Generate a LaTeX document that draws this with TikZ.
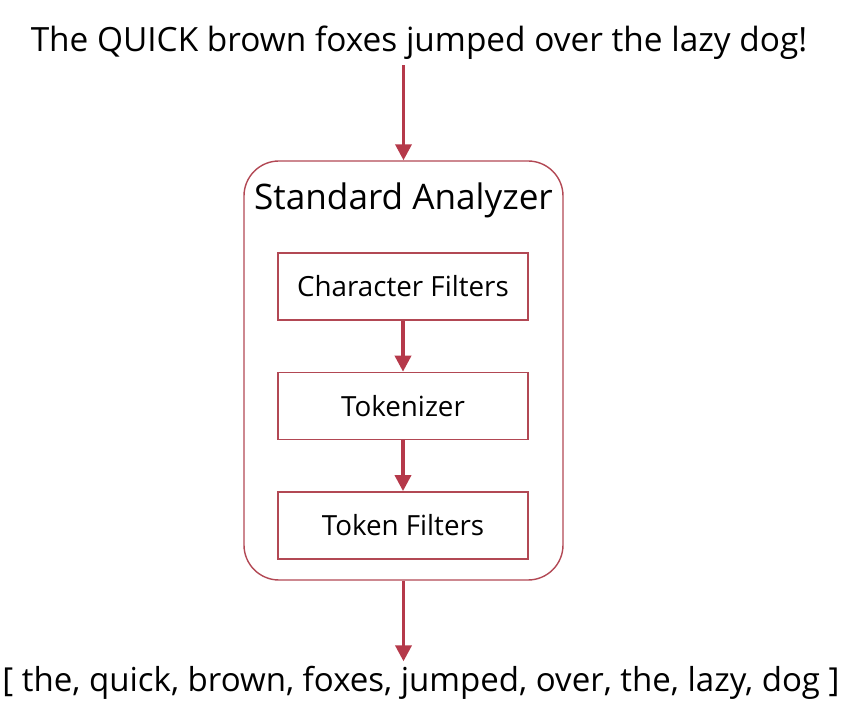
\documentclass[tikz,border=0pt]{standalone}
\usepackage{fontspec}
\setmainfont{Open Sans}
\usepackage{tikz}
\usetikzlibrary{positioning,arrows.meta}

\definecolor{flowred}{RGB}{181,57,74}
\definecolor{edgered}{RGB}{178,72,84}

\begin{document}
\begin{tikzpicture}[
    >={Triangle[width=3.2mm,length=3.2mm]},
    flow/.style={->, draw=flowred, fill=flowred, line width=2pt},
    stage/.style={draw=edgered, line width=0.8pt, minimum width=50mm, minimum height=13.4mm,
                  inner sep=0pt, font=\fontsize{15.8}{19}\selectfont},
    shell/.style={draw=edgered, line width=0.8pt, rounded corners=7mm, minimum width=63.8mm,
                  minimum height=83.8mm, inner sep=0pt},
    bigtext/.style={inner sep=1mm},
  ]
    \useasboundingbox (0,0) rectangle (17.02,14.14);

    % input sentence and output tokens
    \node[bigtext, font=\fontsize{19}{23}\selectfont, anchor=base] (sentence) at (8.38,13.10)
      {The QUICK brown foxes jumped over the lazy dog!};
    \node[bigtext, font=\fontsize{18.8}{23}\selectfont, anchor=base] (tokens) at (8.42,0.30)
      {[ the, quick, brown, foxes, jumped, over, the, lazy, dog ]};

    % analyzer and its three stages
    \node[shell] (analyzer) at (8.07,6.73) {};
    \node[font=\fontsize{20}{24}\selectfont, anchor=base] (analyzername) at (8.07,9.94) {Standard Analyzer};
    \node[stage] (charfilt) at (8.06,8.41) {Character Filters};
    \node[stage, below=10.2mm of charfilt] (tokenizer) {Tokenizer};
    \node[stage, below=10.2mm of tokenizer] (tokfilt) {Token Filters};

    \draw[flow] (sentence.south -| analyzer.north) -- (analyzer.north);
    \draw[flow] (charfilt) -- (tokenizer);
    \draw[flow] (tokenizer) -- (tokfilt);
    \draw[flow] (analyzer.south) -- (tokens.north -| analyzer.south);
  \end{tikzpicture}
\end{document}
